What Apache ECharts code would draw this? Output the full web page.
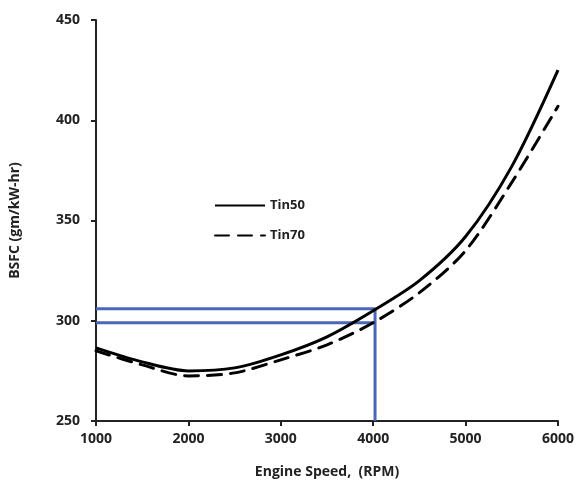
<!DOCTYPE html>
<html>
<head>
<meta charset="utf-8">
<script src="https://cdn.jsdelivr.net/npm/echarts@6/dist/echarts.min.js"></script>
<style>
  html, body { margin: 0; padding: 0; background: #fff; }
  #chart { width: 582px; height: 495px; }
</style>
</head>
<body>
<div id="chart"></div>
<script>
  // engine speed (RPM)
  const speeds = [1000, 1500, 2000, 2500, 3000, 3500, 4000, 4500, 5000, 5500, 6000]
  // BSFC values
  const tin50 = [286.5, 279.5, 275, 276.5, 283, 292, 305, 320, 342, 377, 425]
  const tin70 = [285, 278, 272.5, 274, 280.5, 288, 299, 314, 335, 369, 407]
  // blue guide lines
  const guideLevels = [306, 299]
  const guideSpeed = 4020
  const guideStart = 1000
  const yMin = 250

  const fontFamily = '"Open Sans", "Noto Sans", sans-serif'
  const textColor = '#222'

  let chart = echarts.init(document.getElementById('chart'))

  let pairs = function (xs, ys) {
    return xs.map(function (x, i) { return [x, ys[i]] })
  }

  let guideSeries = guideLevels.map(function (lv) {
    return {
      type: 'line',
      silent: true,
      symbol: 'none',
      z: 1,
      lineStyle: { color: '#4a66b8', width: 3 },
      data: [[guideStart, lv], [guideSpeed, lv]]
    }
  })
  guideSeries.push({
    type: 'line',
    silent: true,
    symbol: 'none',
    z: 1,
    lineStyle: { color: '#4a66b8', width: 3 },
    data: [[guideSpeed, guideLevels[0]], [guideSpeed, yMin]]
  })

  let option = {
    animation: false,
    grid: { left: 95, right: 24, top: 20, bottom: 74 },
    legend: {
      orient: 'vertical',
      left: 209,
      top: 194,
      itemWidth: 50,
      itemHeight: 10,
      itemGap: 17,
      itemStyle: { opacity: 0 },
      textStyle: { fontFamily: fontFamily, fontWeight: 'bold', fontSize: 13, color: textColor },
      data: ['Tin50', 'Tin70']
    },
    xAxis: {
      type: 'value',
      min: 1000,
      max: 6000,
      interval: 1000,
      name: 'Engine Speed,  (RPM)',
      nameLocation: 'middle',
      nameGap: 44,
      nameTextStyle: { fontFamily: fontFamily, fontWeight: 'bold', fontSize: 14, color: textColor },
      axisLine: { lineStyle: { color: textColor, width: 2 } },
      axisTick: { length: 5, lineStyle: { color: textColor, width: 2 } },
      axisLabel: {
        fontFamily: fontFamily, fontWeight: 'bold', fontSize: 14, color: textColor, margin: 11,
        formatter: function (v) { return String(v) }
      },
      splitLine: { show: false }
    },
    yAxis: {
      type: 'value',
      min: 250,
      max: 450,
      interval: 50,
      name: 'BSFC (gm/kW-hr)',
      nameLocation: 'middle',
      nameGap: 74,
      nameRotate: 90,
      nameTextStyle: { fontFamily: fontFamily, fontWeight: 'bold', fontSize: 14, color: textColor },
      axisLine: { show: true, lineStyle: { color: textColor, width: 2 } },
      axisTick: { show: true, length: 5, lineStyle: { color: textColor, width: 2 } },
      axisLabel: { fontFamily: fontFamily, fontWeight: 'bold', fontSize: 14, color: textColor, margin: 16 },
      splitLine: { show: false }
    },
    series: guideSeries.concat([
      {
        name: 'Tin50',
        type: 'line',
        smooth: 0.3,
        symbol: 'none',
        z: 3,
        lineStyle: { color: '#000', width: 3 },
        itemStyle: { color: '#000' },
        data: pairs(speeds, tin50)
      },
      {
        name: 'Tin70',
        type: 'line',
        smooth: 0.3,
        symbol: 'none',
        z: 3,
        lineStyle: { color: '#000', width: 3, type: [14, 9], cap: 'round' },
        itemStyle: { color: '#000' },
        data: pairs(speeds, tin70)
      }
    ])
  }

  chart.setOption(option)
</script>
</body>
</html>
